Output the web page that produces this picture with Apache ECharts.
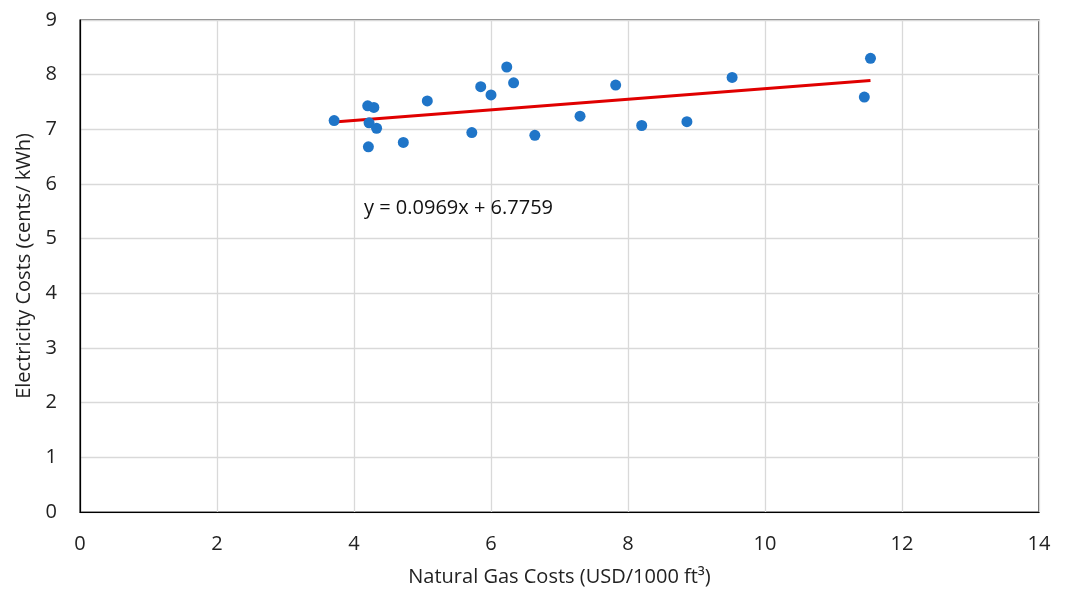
<!DOCTYPE html>
<html>
<head>
<meta charset="utf-8">
<script src="https://cdn.jsdelivr.net/npm/echarts@6/dist/echarts.min.js"></script>
<style>html,body{margin:0;padding:0;background:#fff}#c{width:1067px;height:595px}</style>
</head>
<body>
<div id="c"></div>
<script>
const gasCosts = [3.71, 4.20, 4.29, 4.22, 4.33, 4.21, 4.72, 5.07, 5.72, 5.85, 6.00, 6.23, 6.33, 6.64, 7.30, 7.82, 8.20, 8.86, 9.52, 11.54, 11.45];
const elecCosts = [7.16, 7.43, 7.40, 7.12, 7.02, 6.68, 6.76, 7.52, 6.94, 7.78, 7.63, 8.14, 7.85, 6.89, 7.24, 7.81, 7.07, 7.14, 7.95, 8.30, 7.59];
const trendSlope = 0.0969;
const trendIntercept = 6.7759;
const trendXRange = [3.71, 11.54];
const trendLabel = 'y = 0.0969x + 6.7759';
const xTicks = [0, 2, 4, 6, 8, 10, 12, 14];
const yTicks = [0, 1, 2, 3, 4, 5, 6, 7, 8, 9];

const font = '"Open Sans", "Noto Sans", sans-serif';
const chart = echarts.init(document.getElementById('c'), null, {renderer: 'canvas'});
const points = gasCosts.map((x, i) => [x, elecCosts[i]]);
const trend = trendXRange.map(x => [x, trendSlope * x + trendIntercept]);

chart.setOption({
  animation: false,
  backgroundColor: '#fff',
  grid: {left: 80, right: 28, top: 20, bottom: 83, show: true, borderColor: '#000', borderWidth: 1.2, backgroundColor: 'transparent'},
  xAxis: {
    type: 'value', min: xTicks[0], max: xTicks[xTicks.length - 1], interval: 2,
    name: 'Natural Gas Costs (USD/1000 ft³)', nameLocation: 'middle', nameGap: 55,
    nameTextStyle: {fontFamily: font, fontSize: 20, color: '#222'},
    axisLine: {show: true, lineStyle: {color: '#000', width: 1.2}},
    axisTick: {show: false},
    axisLabel: {fontFamily: font, fontSize: 20, color: '#222', margin: 22},
    splitLine: {show: true, lineStyle: {color: '#d9d9d9', width: 1.3}}
  },
  yAxis: {
    type: 'value', min: yTicks[0], max: yTicks[yTicks.length - 1], interval: 1,
    name: 'Electricity Costs (cents/ kWh)', nameLocation: 'middle', nameGap: 45,
    nameTextStyle: {fontFamily: font, fontSize: 20, color: '#222'},
    axisLine: {show: true, lineStyle: {color: '#000', width: 1.2}},
    axisTick: {show: false},
    axisLabel: {fontFamily: font, fontSize: 20, color: '#222', margin: 23},
    splitLine: {show: true, lineStyle: {color: '#d9d9d9', width: 1.3}}
  },
  series: [
    {
      type: 'line', data: trend, symbol: 'none', z: 3,
      lineStyle: {color: '#e00000', width: 3}
    },
    {
      type: 'scatter', data: points, symbol: 'circle', symbolSize: 11, z: 4,
      itemStyle: {color: '#1f75c8', opacity: 1}
    }
  ],
  graphic: [{
    type: 'text', left: 364, top: 198, z: 10,
    style: {text: trendLabel, fontFamily: font, fontSize: 20, fill: '#111'}
  }]
});
</script>
</body>
</html>
